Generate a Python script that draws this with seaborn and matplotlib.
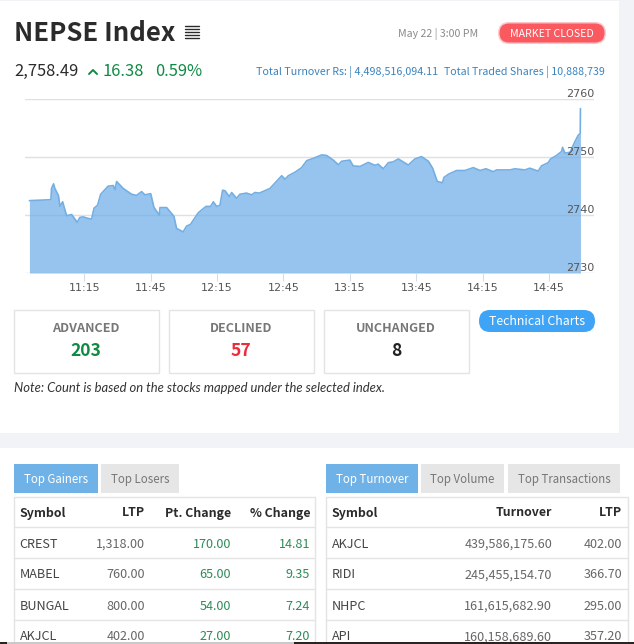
import matplotlib
matplotlib.use("Agg")

import matplotlib.pyplot as plt
from matplotlib.patches import FancyBboxPatch, Rectangle
import pandas as pd
import seaborn as sns

W, H = 634, 644

# minutes after 11:15
minutes = [
    -24.8, -15.1, -14.8, -13.9, -13.3, -11.7, -11.0, -9.8, -8.0, -5.7, -3.2, -2.0,
    -0.5, 1.0, 3.3, 4.4, 6.0, 7.4, 10.8, 13.1, 13.9, 14.6, 17.6, 21.4, 23.6, 25.9,
    27.4, 30.0, 31.5, 33.9, 34.2, 37.2, 40.5, 41.7, 44.7, 46.2, 48.0, 51.5, 55.0,
    57.1, 58.3, 59.8, 61.3, 62.5, 63.6, 65.5, 66.6, 68.8, 70.3, 73.3, 75.6, 77.1,
    79.1, 83.9, 89.2, 90.7, 92.2, 95.2, 98.2, 100.5, 103.5, 107.3, 109.5, 112.5,
    114.8, 116.3, 120.0, 121.5, 124.6, 128.3, 131.3, 132.8, 135.1, 137.4, 139.6,
    141.9, 146.4, 149.4, 152.4, 155.5, 157.4, 159.5, 161.9, 162.5, 164.5, 168.2,
    172.0, 175.8, 178.8, 181.5, 184.8, 186.3, 192.3, 194.6, 199.1, 201.3, 205.1,
    206.6, 209.6, 210.7, 213.4, 215.7, 216.1, 217.2, 219.5, 221.7, 223.2, 224.1,
    224.2,
]
index_values = [
    2742.5, 2742.66, 2744.6, 2745.4, 2744.6, 2743.4, 2741.5, 2742.3, 2739.9, 2740.1,
    2738.75, 2739.6, 2739.7, 2739.5, 2739.3, 2741.2, 2741.7, 2743.6, 2745.0, 2745.1,
    2744.4, 2745.8, 2744.6, 2743.6, 2743.4, 2744.05, 2743.5, 2743.7, 2741.3, 2740.0,
    2741.3, 2741.3, 2739.8, 2737.7, 2737.1, 2738.1, 2738.4, 2740.4, 2741.5, 2741.5,
    2742.3, 2741.5, 2741.7, 2744.3, 2744.2, 2743.2, 2743.9, 2742.9, 2743.6, 2743.8,
    2743.5, 2743.9, 2743.8, 2744.6, 2746.8, 2746.2, 2746.8, 2747.4, 2748.2, 2749.4,
    2749.8, 2750.4, 2750.3, 2749.5, 2748.7, 2749.3, 2749.5, 2748.5, 2748.4, 2749.1,
    2748.6, 2748.8, 2748.0, 2749.05, 2749.2, 2749.7, 2748.65, 2749.7, 2750.1, 2749.3,
    2748.1, 2745.8, 2745.6, 2746.5, 2747.05, 2747.7, 2747.7, 2748.2, 2747.7, 2748.0,
    2747.5, 2747.8, 2747.8, 2748.0, 2747.8, 2748.1, 2747.6, 2748.5, 2749.05, 2749.7,
    2750.3, 2751.0, 2751.7, 2750.7, 2750.85, 2752.7, 2753.8, 2754.1, 2758.4,
]
x_ticks = [0, 30, 60, 90, 120, 150, 180, 210]
x_labels = ["11:15", "11:45", "12:15", "12:45", "13:15", "13:45", "14:15", "14:45"]
y_ticks = [2730, 2740, 2750, 2760]

breadth_names = ["ADVANCED", "DECLINED", "UNCHANGED"]
breadth_counts = ["203", "57", "8"]
breadth_colors = ["#0e8a43", "#ee2b3b", "#222222"]

gainers_head = ["Symbol", "LTP", "Pt. Change", "% Change"]
gainers_symbol = ["CREST", "MABEL", "BUNGAL", "AKJCL"]
gainers_ltp = ["1,318.00", "760.00", "800.00", "402.00"]
gainers_pt = ["170.00", "65.00", "54.00", "27.00"]
gainers_pct = ["14.81", "9.35", "7.24", "7.20"]

turnover_head = ["Symbol", "Turnover", "LTP"]
turnover_symbol = ["AKJCL", "RIDI", "NHPC", "API"]
turnover_value = ["439,586,175.60", "245,455,154.70", "161,615,682.90", "160,158,689.60"]
turnover_ltp = ["402.00", "366.70", "295.00", "357.20"]

sns.set_theme(style="white")
plt.rcParams["font.family"] = ["Noto Sans CJK SC", "DejaVu Sans"]

fig = plt.figure(figsize=(W / 100, H / 100), dpi=100)

# page overlay in pixel coordinates, y going down
page = fig.add_axes([0, 0, 1, 1], zorder=0)
page.set_xlim(0, W)
page.set_ylim(H, 0)
page.axis("off")


def rect(x, y, w, h, fc="white", ec="none", lw=0.0, zorder=1):
    page.add_patch(Rectangle((x, y), w, h, fc=fc, ec=ec, lw=lw, zorder=zorder))


def pill(x, y, w, h, fc):
    page.add_patch(FancyBboxPatch(
        (x, y), w, h,
        boxstyle=f"round,pad=0,rounding_size={h / 2}",
        fc=fc, ec="none", lw=0, zorder=2,
    ))


def label(x, y, s, size, color="#333333", ha="left", **kw):
    # the font sits a little high in its box
    page.text(x, y + 1.5, s, fontsize=size, color=color, ha=ha, va="center", zorder=4, **kw)


# panels
rect(0, 0, W, H, fc="#f1f3f6", zorder=0)
rect(0, 1, 619, 432, zorder=0.5)
rect(0, 448, W, H - 448, zorder=0.5)
rect(0, 642, W, 2, fc="#2b2320", zorder=5)
rect(7, 642, 287, 2, fc="#c9c9c9", zorder=6)

# header
label(14, 32, "NEPSE Index", 18.5, color="#2b2b2b", fontweight="bold")
for y in [26, 29, 32, 35, 38]:
    page.plot([185, 199], [y, y], color="#2b2b2b", lw=1.0, zorder=4)
label(398, 32, "May 22 | 3:00 PM", 7.6, color="#8a8a8a")
pill(498, 22, 108, 22, "#fcc6c8")
pill(499.5, 23.5, 105, 19, "#f9595f")
label(551.5, 32, "MARKET CLOSED", 7.6, color="white", ha="center")

label(14, 70, "2,758.49", 11.9, color="#2b2b2b")
page.plot([89, 93, 97], [74, 70, 74], color="#0e8a43", lw=1.4, zorder=4)
label(103, 70, "16.38", 11.9, color="#0e8a43")
label(155, 70, "0.59%", 11.9, color="#0e8a43")
label(255.5, 70, "Total Turnover Rs: | 4,498,516,094.11", 7.7, color="#3a83bd")
label(444, 70, "Total Traded Shares | 10,888,739", 7.65, color="#3a83bd")

# area chart, axes placed so the data scales land on the pixels of the grid
x0, x1 = 25.0, 594.0
y_top, y_bot = 99.3, 273.0
ax = fig.add_axes([x0 / W, 1 - y_bot / H, (x1 - x0) / W, (y_bot - y_top) / H], zorder=2)
ax.patch.set_alpha(0)
ax.set_xlim((x0 - 84.3) / 2.213, (x1 - 84.3) / 2.213)
ax.set_ylim(2730, 2760)
ax.set_axisbelow(False)

for tick in y_ticks:
    ax.axhline(tick, color="#e0e0e0" if tick != 2730 else "#cfd8e6", lw=1, zorder=0.5)

index_df = pd.DataFrame({"minute": minutes, "value": index_values})
ax.fill_between(index_df["minute"], index_df["value"], 2730, color="#6aace7", alpha=0.7, lw=0, zorder=1)
sns.lineplot(data=index_df, x="minute", y="value", ax=ax, color="#74afe3",
             lw=1.2, errorbar=None, estimator=None, sort=False, zorder=1.2)
ax.set_xlabel("")
ax.set_ylabel("")
sns.despine(ax=ax, left=True, bottom=True, top=True, right=True)
ax.set_xticks(x_ticks, x_labels)
ax.set_yticks(y_ticks, [str(t) for t in y_ticks])
ax.yaxis.tick_right()
ax.tick_params(axis="x", length=6, width=0.8, color="#d5dde8", labelsize=8,
               labelcolor="#555555", pad=1.5, bottom=True)
ax.tick_params(axis="y", length=0, labelsize=8, labelcolor="#555555", right=False, pad=-20)
for lab in ax.get_xticklabels() + ax.get_yticklabels():
    lab.set_fontfamily("DejaVu Sans")
for lab in ax.get_yticklabels():
    lab.set_verticalalignment("bottom")

# advance / decline boxes
for box_x, name, count, col in zip([14, 169, 324], breadth_names, breadth_counts, breadth_colors):
    rect(box_x, 310, 144.5, 63, ec="#e4e4e4", lw=1, zorder=2)
    label(box_x + 72, 327, name, 9.1, color="#777777", ha="center", fontweight="bold")
    label(box_x + 72, 349, count, 12.6, color=col, ha="center", fontweight="bold")
pill(479, 310, 116, 22, "#3fa4f5")
label(537, 320, "Technical Charts", 8.9, color="white", ha="center")
label(14, 386, "Note: Count is based on the stocks mapped under the selected index.", 9.4,
      color="#333333", style="italic", family="Lato")


def tab(x, w, s, active):
    rect(x, 464, w, 29, fc="#6fb2e8" if active else "#e6e6e6", zorder=2)
    label(x + w / 2, 477.5, s, 8.3, color="white" if active else "#777777", ha="center")


tab(14, 84, "Top Gainers", True)
tab(101, 78, "Top Losers", False)
tab(326, 92, "Top Turnover", True)
tab(421, 83, "Top Volume", False)
tab(508, 112, "Top Transactions", False)

# tables
row_ys = [511.5, 542.5, 573.5, 604.5, 635.5]
grid_ys = [496.5, 527, 558, 589, 620]
for left, right in [(14, 315), (326, 628)]:
    for gy in grid_ys:
        page.plot([left, right], [gy, gy], color="#e4e4e4", lw=1, zorder=2)
    for vx in (left, right):
        page.plot([vx, vx], [496.5, 642], color="#e4e4e4", lw=1, zorder=2)

grey = "#666666"
green = "#2e8b57"
for x, ha, s in zip([19.5, 145, 231, 310], ["left", "right", "right", "right"], gainers_head):
    label(x, row_ys[0], s, 8.9, color="#2b2b2b", ha=ha, fontweight="bold")
for i, ry in enumerate(row_ys[1:]):
    label(19.5, ry, gainers_symbol[i], 9.1, color="#444444")
    label(145, ry, gainers_ltp[i], 9.1, color=grey, ha="right")
    label(231, ry, gainers_pt[i], 9.1, color=green, ha="right")
    label(310, ry, gainers_pct[i], 9.1, color=green, ha="right")

for x, ha, s in zip([332, 552, 622], ["left", "right", "right"], turnover_head):
    label(x, row_ys[0], s, 8.9, color="#2b2b2b", ha=ha, fontweight="bold")
for i, ry in enumerate(row_ys[1:]):
    label(332, ry, turnover_symbol[i], 9.1, color="#444444")
    label(552, ry, turnover_value[i], 9.1, color=grey, ha="right")
    label(622, ry, turnover_ltp[i], 9.1, color=grey, ha="right")

fig.savefig("out.png", dpi=100)
plt.close(fig)
